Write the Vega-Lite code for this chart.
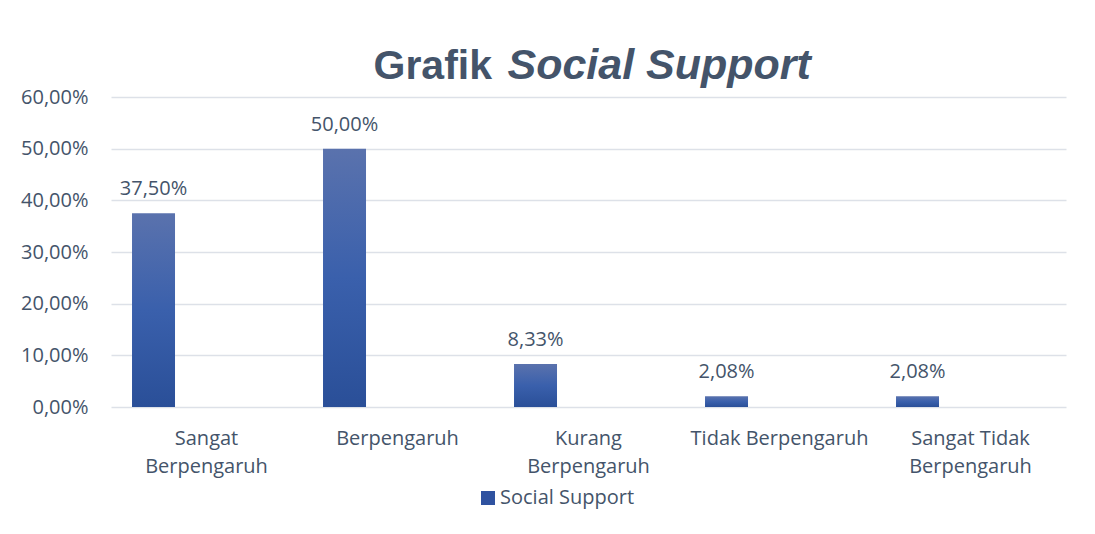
{
  "$schema": "https://vega.github.io/schema/vega-lite/v6.json",
  "autosize": "none",
  "width": 955,
  "height": 310,
  "padding": {"left": 111, "top": 97, "right": 29, "bottom": 127},
  "background": "white",
  "config": {
    "locale": {"number": {"decimal": ",", "thousands": ".", "grouping": [3], "currency": ["", ""]}},
    "view": {"stroke": null},
    "font": "Open Sans"
  },
  "data": {
    "values": [
      {"kategori": "Sangat Berpengaruh", "seri": "Social Support", "nilai": 0.375},
      {"kategori": "Berpengaruh", "seri": "Social Support", "nilai": 0.5},
      {"kategori": "Kurang Berpengaruh", "seri": "Social Support", "nilai": 0.0833},
      {"kategori": "Tidak Berpengaruh", "seri": "Social Support", "nilai": 0.0208},
      {"kategori": "Sangat Tidak Berpengaruh", "seri": "Social Support", "nilai": 0.0208}
    ]
  },
  "encoding": {
    "x": {
      "field": "kategori",
      "type": "nominal",
      "sort": null,
      "scale": {"paddingInner": 0, "paddingOuter": 0},
      "axis": {
        "title": "Grafik",
        "titleFont": "Liberation Sans",
        "titleFontSize": 41,
        "titleFontWeight": "bold",
        "titleColor": "#44546a",
        "titleAlign": "left",
        "titleAnchor": "start",
        "titleBaseline": "alphabetic",
        "titleAngle": 0,
        "titleX": 262,
        "titleY": -329,
        "labelAngle": 0,
        "labelFont": "Open Sans",
        "labelFontSize": 20,
        "labelColor": "#44546a",
        "labelLineHeight": 28,
        "labelBaseline": "top",
        "labelPadding": 21,
        "labelLimit": 400,
        "ticks": false,
        "domain": false,
        "labelExpr": "datum.value == 'Sangat Berpengaruh' ? ['Sangat','Berpengaruh'] : datum.value == 'Kurang Berpengaruh' ? ['Kurang','Berpengaruh'] : datum.value == 'Sangat Tidak Berpengaruh' ? ['Sangat Tidak','Berpengaruh'] : datum.value"
      }
    },
    "xOffset": {
      "field": "seri",
      "type": "nominal",
      "scale": {"domain": ["Social Support"], "paddingInner": 0.419, "paddingOuter": 1, "align": 0.142}
    },
    "y": {
      "field": "nilai",
      "type": "quantitative",
      "scale": {"domain": [0, 0.6], "nice": false},
      "axis": {
        "values": [0, 0.1, 0.2, 0.3, 0.4, 0.5, 0.6],
        "format": ".2%",
        "title": "Social Support",
        "titleFont": "Liberation Sans",
        "titleFontSize": 43,
        "titleFontWeight": "bold",
        "titleFontStyle": "italic",
        "titleColor": "#44546a",
        "titleAngle": 0,
        "titleAlign": "left",
        "titleBaseline": "alphabetic",
        "titleX": 396,
        "titleY": -19,
        "labelFont": "Open Sans",
        "labelFontSize": 20,
        "labelColor": "#44546a",
        "labelPadding": 23,
        "ticks": false,
        "domain": false,
        "grid": true,
        "gridColor": "#dde1e8",
        "gridWidth": 1.3
      }
    }
  },
  "layer": [
    {
      "mark": {
        "type": "bar",
        "fill": {
          "gradient": "linear",
          "x1": 0, "y1": 0, "x2": 0, "y2": 1,
          "stops": [
            {"offset": 0, "color": "#5a72ad"},
            {"offset": 0.5, "color": "#3a60ac"},
            {"offset": 1, "color": "#2a4f98"}
          ]
        }
      }
    },
    {
      "mark": {"type": "bar", "opacity": 0},
      "encoding": {
        "color": {
          "field": "seri",
          "type": "nominal",
          "scale": {"range": ["#2f52a0"]},
          "legend": {
            "title": null,
            "orient": "none",
            "legendX": 367,
            "legendY": 391,
            "symbolType": "square",
            "symbolSize": 196,
            "symbolOpacity": 1,
            "symbolStrokeWidth": 0,
            "labelFont": "Open Sans",
            "labelFontSize": 20,
            "labelColor": "#44546a",
            "labelOffset": 2
          }
        }
      }
    },
    {
      "mark": {"type": "text", "baseline": "alphabetic", "dy": -18, "font": "Open Sans", "fontSize": 20, "color": "#44546a"},
      "encoding": {
        "text": {"field": "nilai", "type": "quantitative", "format": ".2%"}
      }
    }
  ]
}
